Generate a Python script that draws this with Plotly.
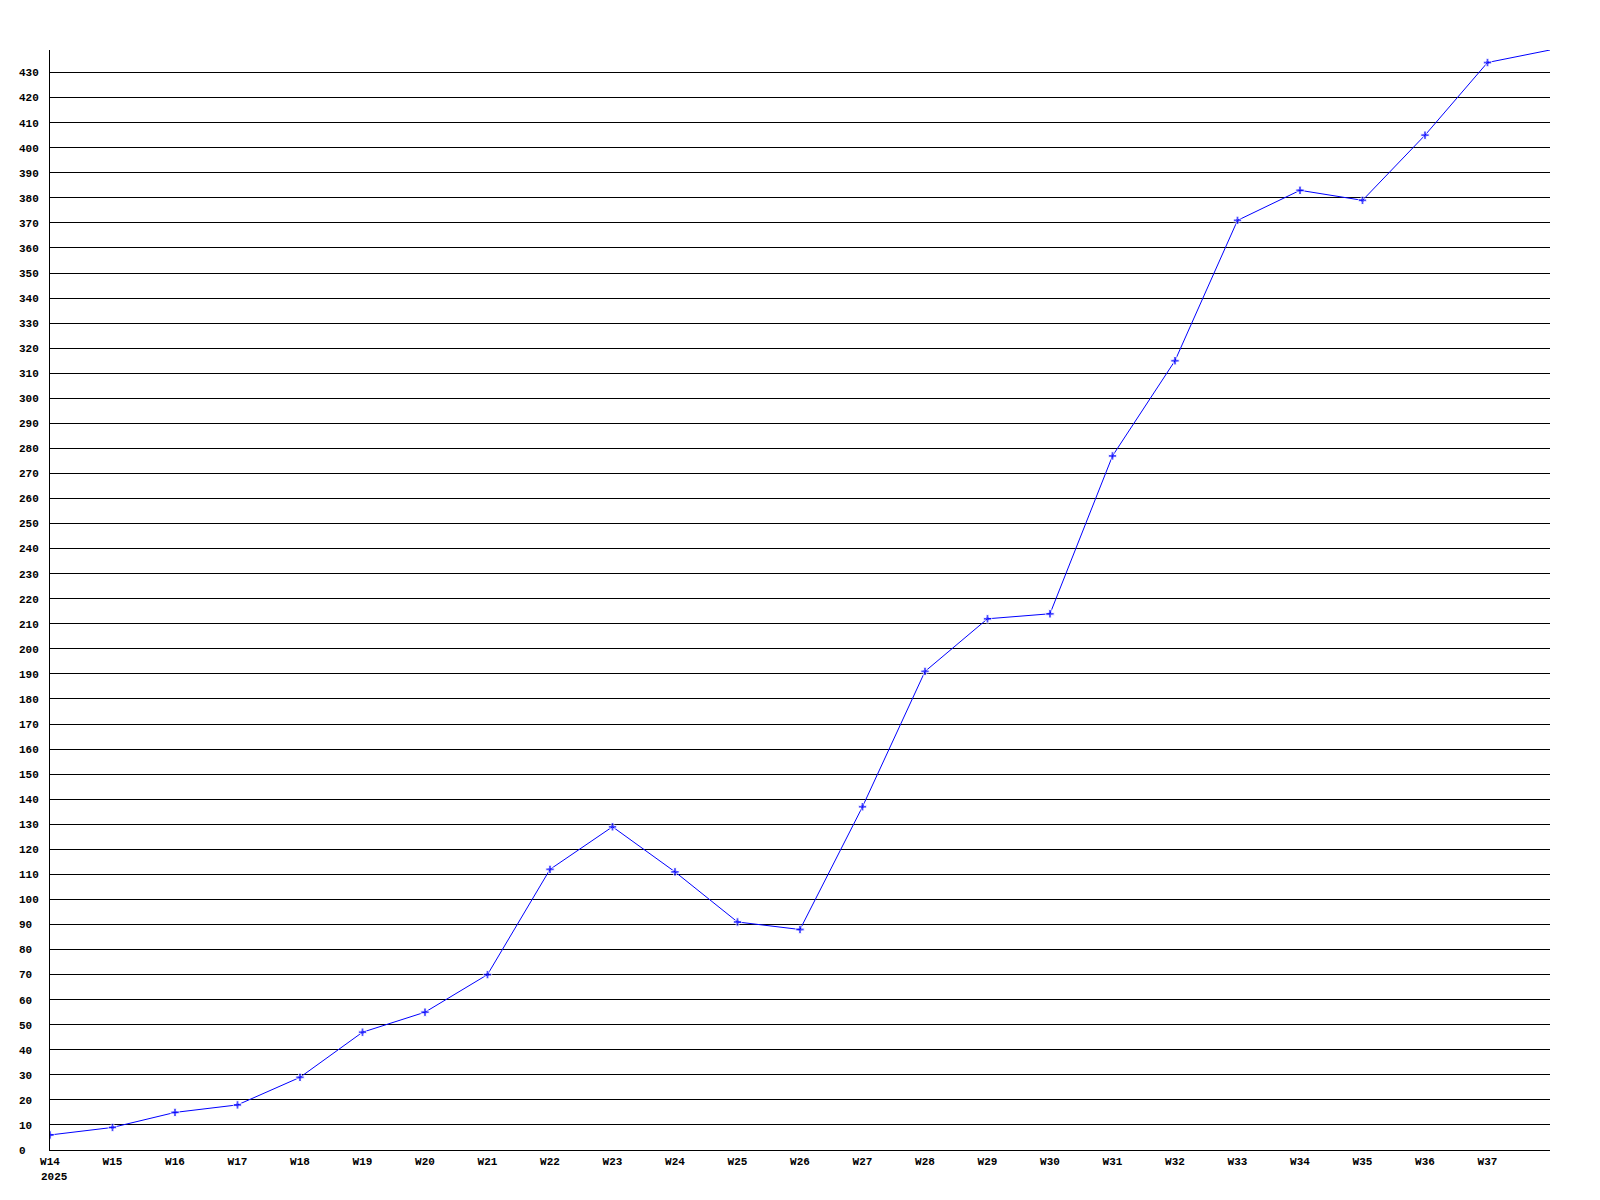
import plotly.graph_objects as go

# weekly values, W14 2025 .. W38 (last point runs off the top of the plot)
weeks = list(range(14, 39))
values = [6, 9, 15, 18, 29, 47, 55, 70, 112, 129, 111, 91, 88, 137,
          191, 212, 214, 277, 315, 371, 383, 379, 405, 434, 439]

tick_weeks = list(range(14, 38))
tick_week_labels = ['W%d' % w for w in tick_weeks]
year_label = '2025'

y_ticks = list(range(0, 440, 10))
# left-aligned labels in a monospace font
y_tick_labels = [str(v).ljust(3, '\u00a0') for v in y_ticks]

marker_sizes = [7] * (len(values) - 1) + [0]

label_font = dict(family='Liberation Mono', size=11, weight='bold', color='black')

fig = go.Figure()
fig.add_trace(go.Scatter(
    x=weeks,
    y=values,
    mode='lines+markers',
    line=dict(color='#0000ff', width=1),
    marker=dict(symbol='cross', size=marker_sizes, color='#0000ff'),
    showlegend=False,
))

# year under the first week label, left aligned with it
fig.add_annotation(
    x=weeks[0], xref='x', y=0, yref='y',
    text=year_label, showarrow=False,
    xanchor='left', yanchor='middle',
    xshift=-11, yshift=-27,
    font=label_font,
)

# the page body adds an 8px margin, so shift the plot area back
fig.update_layout(
    width=1600,
    height=1200,
    margin=dict(l=42, r=58, t=42, b=58),
    paper_bgcolor='white',
    plot_bgcolor='white',
    font=dict(family='Liberation Mono', size=11, color='black'),
    xaxis=dict(
        range=[14, 38],
        tickvals=tick_weeks,
        ticktext=tick_week_labels,
        showgrid=False,
        zeroline=False,
        showline=True,
        linecolor='black',
        linewidth=1,
        ticks='',
        ticklabelstandoff=1,
        tickfont=label_font,
    ),
    yaxis=dict(
        range=[0, 439],
        tickvals=y_ticks,
        ticktext=y_tick_labels,
        showgrid=True,
        gridcolor='black',
        gridwidth=1,
        zeroline=False,
        showline=True,
        linecolor='black',
        linewidth=1,
        ticks='',
        ticklabelstandoff=8,
        tickfont=label_font,
    ),
)

fig.write_html('out.html')
